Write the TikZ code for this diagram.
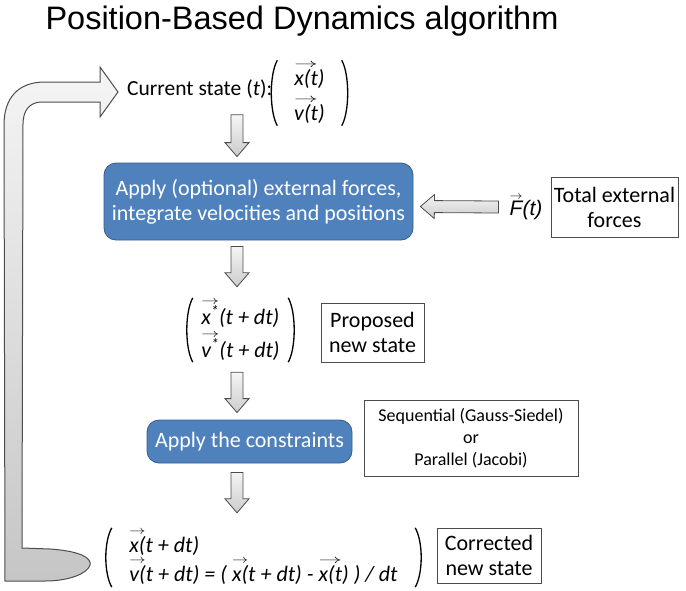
\documentclass[tikz,border=0pt]{standalone}
\usepackage{fontspec}
\setmainfont{Carlito}
\newfontfamily\arialfont{Liberation Sans}
\usetikzlibrary{calc}

\definecolor{stepblue}{RGB}{79,129,189}
\definecolor{stepedge}{RGB}{56,93,138}

% short arrow over a piece of text
\newcommand{\vect}[1]{\setbox0=\hbox{#1}\leavevmode
  \rlap{\raisebox{\dimexpr\ht0+1.5pt\relax}{\resizebox{\wd0}{4.5pt}{$\rightarrow$}}}\box0}
% fat grey arrow from #1 to #2
\newcommand{\fatarrow}[2]{%
  \coordinate (fa-s) at #1;
  \coordinate (fa-e) at #2;
  \coordinate (fa-h) at ($(fa-e)!14pt!(fa-s)$);
  \draw [flowarrow] ($(fa-s)!6pt!90:(fa-e)$) -- ($(fa-h)!6pt!90:(fa-e)$)
    -- ($(fa-h)!12pt!90:(fa-e)$) -- (fa-e) -- ($(fa-h)!12pt!-90:(fa-e)$)
    -- ($(fa-h)!6pt!-90:(fa-e)$) -- ($(fa-s)!6pt!-90:(fa-e)$) -- cycle;
}
% round brackets around a state node
\newcommand{\parens}[1]{%
  \draw [paren] (#1.north west) .. controls ($(#1.north west)+(-8,-14)$) and ($(#1.south west)+(-8,14)$) .. (#1.south west);
  \draw [paren] (#1.north east) .. controls ($(#1.north east)+(8,-14)$) and ($(#1.south east)+(8,14)$) .. (#1.south east);
}

\begin{document}
\begin{tikzpicture} [x=1pt,y=1pt,
  etape/.style=
  {rectangle,rounded corners=12pt, fill=stepblue,
    draw=stepedge,thick,text=white,align=center,inner sep=0pt,
    font=\fontsize{22}{25}\selectfont},
  legende/.style=
  {rectangle,draw=black!70,fill=white,align=center,inner sep=0pt,
    font=\fontsize{22}{25}\selectfont},
  etat/.style={inner sep=0pt},
  paren/.style={line width=1.3pt,black},
  flowarrow/.style={top color=gray!8,bottom color=gray!40,draw=gray!60!black,line width=0.8pt},
  returnarrow/.style={top color=gray!8,bottom color=gray!45,draw=gray!60!black,line width=1pt}]
\useasboundingbox (0,0) rectangle (686,-590);
\node [anchor=base,font=\arialfont\fontsize{32.5}{38}\selectfont] (title) at (302,-29) {Position-Based Dynamics algorithm};

\node [anchor=base west,inner sep=0pt,font=\fontsize{21.5}{26}\selectfont] (cur) at (127,-95) {Current state (\textit{t}):};
\node [etat,minimum width=64pt,minimum height=65pt,align=center,
  font=\fontsize{22}{35}\selectfont\itshape] (curvec) at (309.5,-93) {\vect{x(t})\\\vect{v(t})};
\coordinate (flowx) at (237,0);

\node [etape,minimum width=309pt,minimum height=77pt] (forces) at (258.5,-201.5) {Apply (optional) external forces,\\integrate velocities and positions};
\node [etat,font=\arialfont\fontsize{21}{25}\selectfont\itshape] (ft) at (526,-207) {\vect{F}(t)};
\node [legende,minimum width=127pt,minimum height=60pt] (total) at (614.5,-207) {Total external\\forces};

\node [etat,minimum width=95pt,minimum height=64pt,align=left,
  font=\fontsize{22}{33}\selectfont\itshape] (propvec) at (240.5,-330) {\vect{x\textsuperscript{*}}(t + dt)\\\vect{v\textsuperscript{*}}(t + dt)};
\node [legende,minimum width=103pt,minimum height=59pt] (proposed) at (372.5,-332.5) {Proposed\\new state};

\node [etape,minimum width=205pt,minimum height=43pt] (constraints) at (249.5,-441.5) {Apply the constraints};
\node [legende,minimum width=214pt,minimum height=76pt,font=\fontsize{18}{22}\selectfont] (solver) at (471,-438) {Sequential (Gauss-Siedel)\\or\\Parallel (Jacobi)};

\node [etat,minimum width=303pt,minimum height=59pt,align=left,
  font=\fontsize{22}{29}\selectfont\itshape] (corrvec) at (263.5,-557.5) {\vect{x(}t + dt)\\\vect{v(}t + dt) = ( \vect{x(}t + dt) - \vect{x(t}) ) / dt};
\node [legende,minimum width=104pt,minimum height=55pt] (corrected) at (489,-555.5) {Corrected\\new state};

\parens{curvec}
\parens{propvec}
\parens{corrvec}

\fatarrow{($(curvec.south -| flowx)+(0,11)$)}{($(forces.north -| flowx)+(0,6)$)}
\fatarrow{($(forces.south -| flowx)+(0,-6)$)}{($(propvec.north -| flowx)+(0,11)$)}
\fatarrow{($(propvec.south -| flowx)+(0,-10)$)}{($(constraints.north -| flowx)+(0,7)$)}
\fatarrow{($(constraints.south -| flowx)+(0,-9)$)}{($(corrvec.north -| flowx)+(0,15)$)}
\fatarrow{($(ft.west)+(-11,0)$)}{($(forces.east)+(7,-5)$)}

% return loop
\draw [returnarrow] (5,-581) -- (4,-125) .. controls (4,-98) and (18,-82) .. (45,-82)
  -- (100,-82) -- (100,-67) -- (118,-92) -- (100,-117) -- (100,-102) -- (42,-102)
  .. controls (30,-102) and (23,-110) .. (23,-124) -- (22,-548) -- (50,-549)
  .. controls (80,-551) and (92,-558) .. (90,-565) .. controls (88,-573) and (70,-581) .. (45,-581) -- cycle;
\end{tikzpicture}
\end{document}
